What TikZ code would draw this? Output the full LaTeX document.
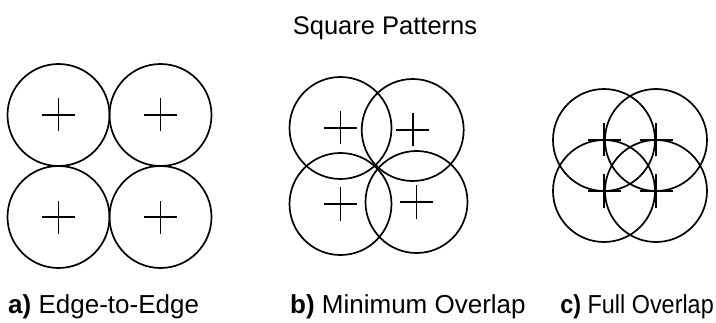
\documentclass[tikz,border=0pt]{standalone}
\usepackage{fontspec}
\usepackage{graphicx}
\setmainfont{Liberation Sans}
\begin{document}
\begin{tikzpicture}[x=1pt,y=1pt,
  ring/.style={draw=black,line width=1.7pt,circle,minimum size=102pt,inner sep=0pt},
  cross/.style={line width=1.6pt},
  lbl/.style={anchor=base west,inner sep=0pt,font=\fontsize{26}{31}\selectfont},
  ttl/.style={anchor=base,inner sep=0pt,font=\fontsize{25.5}{30}\selectfont}]
\useasboundingbox (0,0) rectangle (716,322);
\newcommand{\crossat}[1]{\draw[cross] ([xshift=-16.5pt]#1.center) -- ([xshift=16.5pt]#1.center) ([yshift=-16.5pt]#1.center) -- ([yshift=16.5pt]#1.center);}
\node[ttl] (title) at (385,287) {Square Patterns};
% a) edge-to-edge
\node[ring] (a1) at (58.5,207) {};
\node[ring] (a2) at (160.5,207) {};
\node[ring] (a3) at (58.5,105) {};
\node[ring] (a4) at (160.5,105) {};
% b) minimum overlap
\node[ring] (b1) at (340.5,194) {};
\node[ring] (b2) at (412.7,192) {};
\node[ring] (b3) at (340.5,118) {};
\node[ring] (b4) at (416.5,120) {};
% c) full overlap
\node[ring] (c1) at (604,182) {};
\node[ring] (c2) at (656,182) {};
\node[ring] (c3) at (604,131) {};
\node[ring] (c4) at (656,131) {};
\foreach \n in {a1,a2,a3,a4,b1,b2,b3,b4,c1,c2,c3,c4} {\crossat{\n}}
\node[lbl] (la) at (8,9) {\textbf{a)} Edge-to-Edge};
\node[lbl] (lb) at (290,9) {\textbf{b)} Minimum Overlap};
\node[lbl,anchor=base east] (lc) at (714,9) {\scalebox{0.9}[1]{\textbf{c)} Full Overlap}};
\end{tikzpicture}
\end{document}
